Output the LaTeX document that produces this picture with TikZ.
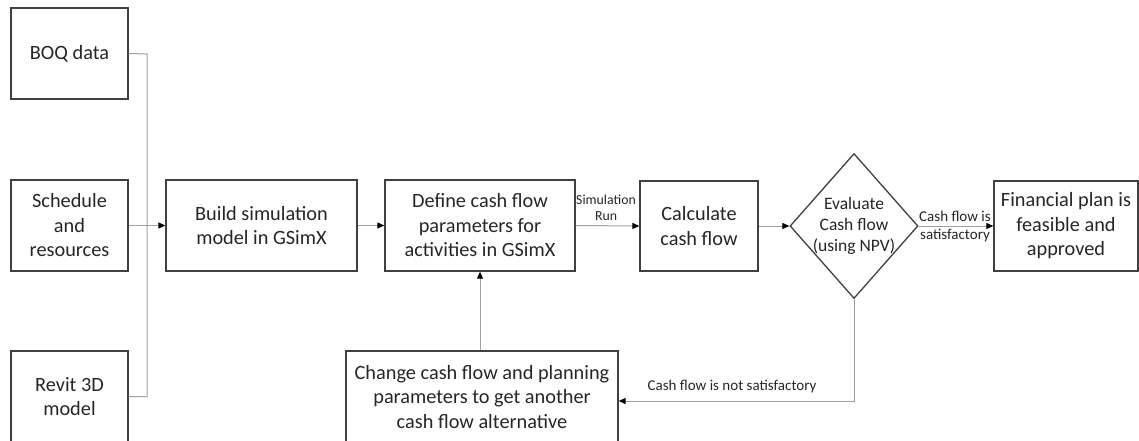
\documentclass[tikz,border=0pt]{standalone}
\usepackage{fontspec}
\setmainfont{Carlito}
\usetikzlibrary{arrows.meta,shapes.geometric}
\definecolor{boxline}{HTML}{404040}
\definecolor{conn}{HTML}{A0A0A0}
\definecolor{txt}{HTML}{262626}
\tikzset{
  box/.style={draw=boxline, line width=1.3pt, inner sep=0pt, align=center, text=txt,
    font=\fontsize{20.3}{24.5}\selectfont},
  conline/.style={draw=conn, line width=1pt},
  arr/.style={conline, -{Triangle[length=7pt,width=6pt,color=black]}},
  small/.style={text=txt, align=center, inner sep=0pt, font=\fontsize{15}{18}\selectfont},
}
\begin{document}
\begin{tikzpicture}[x=1pt,y=-1pt]
\useasboundingbox (0,0) rectangle (1139,441);
% input boxes
\node[box, minimum width=117pt, minimum height=91pt] (boq) at (69.5,53.5) {BOQ data};
\node[box, minimum width=117pt, minimum height=91pt] (sched) at (69.5,225.5) {Schedule\\and\\resources};
\node[box, minimum width=117pt, minimum height=91pt] (revit) at (69.5,396.5) {Revit 3D\\model};
% main flow
\node[box, minimum width=191pt, minimum height=91pt] (build) at (261.5,225.5) {Build simulation\\model in GSimX};
\node[box, minimum width=190pt, minimum height=91pt] (define) at (480,225.5) {Define cash flow\\parameters for\\activities in GSimX};
\node[box, minimum width=118pt, minimum height=90pt] (calc) at (699,226) {Calculate\\cash flow};
\node[diamond, draw=boxline, line width=1.3pt, minimum width=128pt, minimum height=145pt, inner sep=0pt] (eval) at (854,226) {};
\node[text=txt, align=center, inner sep=0pt, font=\fontsize{17.5}{21}\selectfont] (evaltext) at (eval.center) {Evaluate\\Cash flow\\(using NPV)};
\node[box, minimum width=144pt, minimum height=90pt] (fin) at (1066,226) {Financial plan is\\feasible and\\approved};
\node[box, minimum width=272pt, minimum height=92pt] (change) at (482,397) {Change cash flow and planning\\parameters to get another\\cash flow alternative};
% connectors
\coordinate (bus) at (147,54);
\draw[conline] (boq.east) -- (bus) |- (revit.east);
\draw[arr] (sched.east) -- (build.west);
\draw[arr] (build.east) -- (define.west);
\draw[arr] (define.east) -- (calc.west);
\node[small, font=\fontsize{13.8}{16.5}\selectfont] (simrun) at (606,208) {Simulation\\Run};
\draw[arr] (calc.east) -- (eval.west);
\draw[arr] (eval.east) -- (fin.west);
\node[small] (sat) at (955,226.5) {Cash flow is\\satisfactory};
\coordinate (corner) at (854,401);
\draw[arr] (eval.south) -- (corner) -- (change.east |- corner);
\node[small] (notsat) at (732,386) {Cash flow is not satisfactory};
\draw[arr] (change.north -| define.south) -- (define.south);
\end{tikzpicture}
\end{document}
